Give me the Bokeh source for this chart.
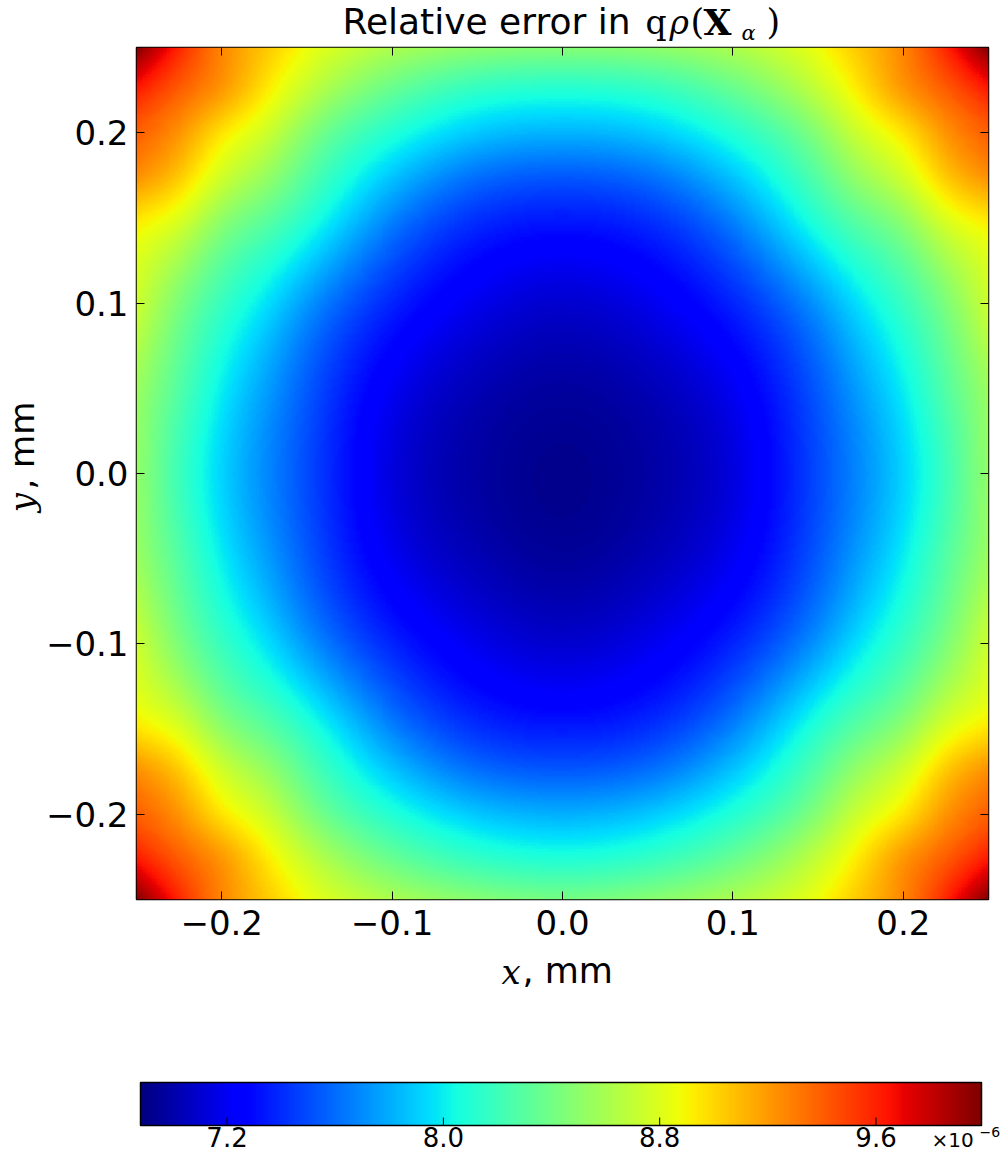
import numpy as np
from bokeh.plotting import figure
from bokeh.models import LinearColorMapper, FixedTicker, CustomJSTickFormatter, LinearAxis, Range1d
from bokeh.layouts import column, row
from bokeh.core.properties import value
from bokeh.embed import file_html
from bokeh.resources import INLINE

# ---------------- data (in units of 1e-6) ----------------
x_mm = [-0.25, -0.225, -0.2, -0.175, -0.15, -0.1, -0.05, 0.0, 0.05, 0.1, 0.15, 0.175, 0.2, 0.225, 0.25]
y_mm = [-0.25, -0.225, -0.2, -0.175, -0.15, -0.1, -0.05, 0.0, 0.05, 0.1, 0.15, 0.175, 0.2, 0.225, 0.25]
# rows: y from -0.25 (first) to 0.25 (last); columns: x from -0.25 to 0.25
rel_err_e6 = [
    [9.99, 9.59, 9.27, 9.06, 8.87, 8.62, 8.48, 8.42, 8.48, 8.62, 8.87, 9.06, 9.27, 9.59, 9.99],
    [9.62, 9.40, 9.20, 8.95, 8.70, 8.35, 8.15, 8.08, 8.15, 8.35, 8.70, 8.95, 9.20, 9.40, 9.62],
    [9.40, 9.22, 8.96, 8.75, 8.48, 8.10, 7.88, 7.81, 7.88, 8.10, 8.48, 8.75, 8.96, 9.22, 9.40],
    [9.24, 9.05, 8.76, 8.55, 8.30, 7.88, 7.62, 7.55, 7.62, 7.88, 8.30, 8.55, 8.76, 9.05, 9.24],
    [8.96, 8.80, 8.52, 8.33, 8.12, 7.68, 7.42, 7.35, 7.42, 7.68, 8.12, 8.33, 8.52, 8.80, 8.96],
    [8.74, 8.44, 8.18, 7.97, 7.74, 7.38, 7.18, 7.10, 7.18, 7.38, 7.74, 7.97, 8.18, 8.44, 8.74],
    [8.56, 8.28, 8.00, 7.77, 7.55, 7.20, 7.03, 6.96, 7.03, 7.20, 7.55, 7.77, 8.00, 8.28, 8.56],
    [8.53, 8.20, 7.92, 7.70, 7.50, 7.14, 6.98, 6.92, 6.98, 7.14, 7.50, 7.70, 7.92, 8.20, 8.53],
    [8.56, 8.28, 8.00, 7.77, 7.55, 7.20, 7.03, 6.97, 7.03, 7.20, 7.55, 7.77, 8.00, 8.28, 8.56],
    [8.74, 8.44, 8.18, 7.97, 7.74, 7.38, 7.18, 7.10, 7.18, 7.38, 7.74, 7.97, 8.18, 8.44, 8.74],
    [8.96, 8.80, 8.52, 8.33, 8.12, 7.68, 7.42, 7.35, 7.42, 7.68, 8.12, 8.33, 8.52, 8.80, 8.96],
    [9.24, 9.05, 8.76, 8.55, 8.30, 7.88, 7.62, 7.55, 7.62, 7.88, 8.30, 8.55, 8.76, 9.05, 9.24],
    [9.40, 9.22, 8.96, 8.75, 8.48, 8.10, 7.88, 7.82, 7.88, 8.10, 8.48, 8.75, 8.96, 9.22, 9.40],
    [9.62, 9.40, 9.20, 8.95, 8.70, 8.35, 8.15, 8.10, 8.15, 8.35, 8.70, 8.95, 9.20, 9.40, 9.62],
    [9.99, 9.59, 9.27, 9.06, 8.87, 8.62, 8.50, 8.47, 8.50, 8.62, 8.87, 9.06, 9.27, 9.59, 9.99],
]
x_ticks = [-0.2, -0.1, 0.0, 0.1, 0.2]
y_ticks = [-0.2, -0.1, 0.0, 0.1, 0.2]
cbar_ticks = [7.2, 8.0, 8.8, 9.6]
cbar_tick_labels = ["7.2", "8.0", "8.8", "9.6"]
cbar_low, cbar_high = 6.88, 9.99
x_lim = (-0.25, 0.25)
y_lim = (-0.25, 0.25)
title_main = "Relative error in"
x_label_var, y_label_var, unit_text = "x", "y", ", mm"
cbar_offset_text, cbar_offset_exp = "\u00d710", "\u22126"

# ---------------- jet palette ----------------
def _seg(pts, t):
    return np.interp(t, [q[0] for q in pts], [q[1] for q in pts])

_t = np.linspace(0, 1, 256)
_r = _seg([(0, 0), (0.35, 0), (0.66, 1), (0.89, 1), (1, 0.5)], _t)
_g = _seg([(0, 0), (0.125, 0), (0.375, 1), (0.64, 1), (0.91, 0), (1, 0)], _t)
_b = _seg([(0, 0.5), (0.11, 1), (0.34, 1), (0.65, 0), (1, 0)], _t)
jet = ["#%02x%02x%02x" % (int(round(255 * a)), int(round(255 * b)), int(round(255 * c)))
       for a, b, c in zip(_r, _g, _b)]
mapper = LinearColorMapper(palette=jet, low=cbar_low, high=cbar_high)

# ---------------- smooth display resampling of the read grid (natural cubic spline) ----------------
def spline_along0(xk, Y, xq):
    xk = np.asarray(xk, float)
    Y = np.asarray(Y, float)
    n = len(xk)
    h = np.diff(xk)
    A = np.zeros((n, n))
    rhs = np.zeros((n,) + Y.shape[1:])
    A[0, 0] = A[-1, -1] = 1.0
    for i in range(1, n - 1):
        A[i, i - 1] = h[i - 1]
        A[i, i] = 2 * (h[i - 1] + h[i])
        A[i, i + 1] = h[i]
        rhs[i] = 6 * ((Y[i + 1] - Y[i]) / h[i] - (Y[i] - Y[i - 1]) / h[i - 1])
    M = np.linalg.solve(A, rhs)
    idx = np.clip(np.searchsorted(xk, xq) - 1, 0, n - 2)
    hi = h[idx][:, None]
    a = (xk[idx + 1] - xq)[:, None]
    b = (xq - xk[idx])[:, None]
    return (M[idx] * a ** 3 / (6 * hi) + M[idx + 1] * b ** 3 / (6 * hi)
            + (Y[idx] / hi - M[idx] * hi / 6) * a + (Y[idx + 1] / hi - M[idx + 1] * hi / 6) * b)

Z = np.array(rel_err_e6)
N = 284
cx = x_lim[0] + (np.arange(N) + 0.5) * (x_lim[1] - x_lim[0]) / N
cy = y_lim[0] + (np.arange(N) + 0.5) * (y_lim[1] - y_lim[0]) / N
tmp = spline_along0(y_mm, Z, cy)            # (N, len(x))
img = spline_along0(x_mm, tmp.T, cx).T      # (N, N), rows = y
img = np.clip(img, cbar_low, cbar_high)

# ---------------- geometry (window px) ----------------
W = 1003
TITLE_H = 45
YLAB_W = 42
FL, FT, FW, FH = 136, 47, 852, 852
MAIN_BOTTOM = 50
MID_H = (FT - TITLE_H) + FH + MAIN_BOTTOM
XLAB_H = 1000 - (TITLE_H + MID_H)
CB_H = 1153 - 1000
SANS = "DejaVu Sans"
SERIF = "DejaVu Serif"
BL_SHIFT = 0.35   # text glyph anchor sits this fraction of the font size above the baseline


def text_fig(width, height):
    f = figure(width=width, height=height, x_range=Range1d(0, width), y_range=Range1d(height, 0),
               min_border=0, x_axis_location=None, y_axis_location=None,
               output_backend="svg", toolbar_location=None)
    f.grid.visible = False
    f.outline_line_color = None
    f.border_fill_color = "white"
    f.background_fill_color = "white"
    return f


def put(f, x, base, txt, font, size_px, style="normal", vertical=False, align="left", ydir=1):
    off = BL_SHIFT * size_px
    if vertical:
        xx, yy, ang = x - off, base, np.pi / 2
    else:
        xx, yy, ang = x, base - ydir * off, 0.0
    f.text(x=[xx], y=[yy], text=[txt], text_font=value(font), text_font_size=value(f"{size_px}px"),
           text_font_style=style, text_color="black", angle=ang,
           text_align=align, text_baseline="alphabetic")

# ---- title ----
tf = text_fig(W, TITLE_H)
TB = 34
put(tf, 342, TB, title_main, SANS, 36)
put(tf, 645, TB, "q", SERIF, 33)
put(tf, 669, TB, "\u03c1", SERIF, 33, "italic")
put(tf, 690, TB, "(", SERIF, 35)
put(tf, 703, TB, "X", SERIF, 36, "bold")
put(tf, 741, TB + 5.5, "\u03b1", SERIF, 21, "italic")
put(tf, 766, TB, ")", SERIF, 35)

# ---- main heatmap ----
p = figure(width=W - YLAB_W, height=MID_H,
           x_range=Range1d(*x_lim), y_range=Range1d(*y_lim),
           min_border_left=FL - YLAB_W, min_border_right=W - FL - FW,
           min_border_top=FT - TITLE_H, min_border_bottom=MAIN_BOTTOM,
           output_backend="svg", toolbar_location=None)
p.image(image=[img], x=x_lim[0], y=y_lim[0], dw=x_lim[1] - x_lim[0], dh=y_lim[1] - y_lim[0],
        color_mapper=mapper)
p.grid.visible = False
p.outline_line_color = "black"
p.outline_line_width = 1.5
p.background_fill_color = "white"
p.border_fill_color = "white"

fmt = CustomJSTickFormatter(code="return tick.toFixed(1).replace('-', '\u2212');")


def style_axis(ax, ticks, show_labels, standoff):
    ax.ticker = FixedTicker(ticks=ticks)
    ax.major_tick_in = 8
    ax.major_tick_out = 0
    ax.minor_tick_line_color = None
    ax.axis_line_color = None
    ax.major_tick_line_color = "black"
    ax.major_tick_line_width = 1
    if show_labels:
        ax.formatter = fmt
        ax.major_label_text_font = SANS
        ax.major_label_text_font_size = "34px"
        ax.major_label_text_color = "black"
        ax.major_label_standoff = standoff
    else:
        ax.major_label_text_font_size = "1px"
        ax.major_label_text_color = None
        ax.major_label_standoff = 0


style_axis(p.xaxis[0], x_ticks, True, 10)
style_axis(p.yaxis[0], y_ticks, True, 8)
ax_top = LinearAxis()
style_axis(ax_top, x_ticks, False, 0)
p.add_layout(ax_top, "above")
ax_right = LinearAxis()
style_axis(ax_right, y_ticks, False, 0)
p.add_layout(ax_right, "right")

# ---- y label (rotated, reads bottom to top) ----
yf = text_fig(YLAB_W, MID_H)
put(yf, 33, 538 - TITLE_H, y_label_var, SERIF, 34, "italic", vertical=True)
put(yf, 33, 514 - TITLE_H, unit_text, SANS, 34, vertical=True)

# ---- x label ----
xf = text_fig(W, XLAB_H)
y0 = TITLE_H + MID_H
put(xf, 501, 983 - y0, x_label_var, SERIF, 34, "italic")
put(xf, 522, 983 - y0, unit_text, SANS, 35)

# ---- colorbar ----
CL, CR = 140, 981
k = (cbar_high - cbar_low) / (CR - CL)
cb = figure(width=W, height=CB_H,
            x_range=Range1d(cbar_low - CL * k, cbar_low + (W - CL) * k), y_range=Range1d(CB_H, 0),
            min_border=0, x_axis_location=None, y_axis_location=None,
            output_backend="svg", toolbar_location=None)
cb.grid.visible = False
cb.outline_line_color = None
cb.border_fill_color = "white"
cb.background_fill_color = "white"
BAR_T, BAR_B = 82, 125
cb.image(image=[np.linspace(cbar_low, cbar_high, 512).reshape(1, -1)], x=cbar_low, y=BAR_T,
         dw=cbar_high - cbar_low, dh=BAR_B - BAR_T, color_mapper=mapper)
cb.quad(left=[cbar_low], right=[cbar_high], top=[BAR_T], bottom=[BAR_B],
        fill_color=None, line_color="black", line_width=1.5)
cb.segment(x0=cbar_ticks, y0=[BAR_B] * len(cbar_ticks), x1=cbar_ticks, y1=[BAR_B - 8] * len(cbar_ticks),
           line_color="black", line_width=1)
CB_FONT = 26
cb.text(x=cbar_ticks, y=[146 - BL_SHIFT * CB_FONT] * len(cbar_ticks), text=cbar_tick_labels,
        text_font=value(SANS), text_font_size=value(f"{CB_FONT}px"), text_align="center",
        text_baseline="alphabetic", text_color="black")
put(cb, cbar_low + (931 - CL) * k, 146, cbar_offset_text, SANS, 20)
put(cb, cbar_low + (979 - CL) * k, 136, cbar_offset_exp, SANS, 14)

layout = column(tf, row(yf, p, spacing=0), xf, cb, spacing=0)
open("out.html", "w").write(file_html(layout, INLINE))
